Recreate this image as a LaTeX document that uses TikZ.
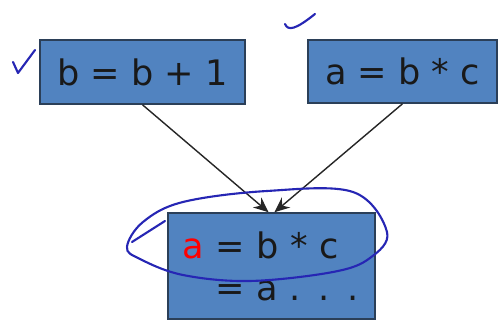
\documentclass[tikz,border=0pt]{standalone}
\usepackage{fontspec}
\usepackage{xcolor}
\usepackage{tikz}
\usetikzlibrary{positioning,arrows.meta}
\newfontfamily\boxfont{DejaVu Sans}
\definecolor{stmtblue}{HTML}{5183C0}
\definecolor{stmtedge}{HTML}{2B3F58}
\definecolor{penblue}{HTML}{2626B4}

\begin{document}
\begin{tikzpicture}[
  x=0.02cm, y=-0.02cm,
  font=\boxfont\fontsize{20}{24}\selectfont,
  stmt/.style={draw=stmtedge, line width=0.9pt, fill=stmtblue, text=black!90,
               inner sep=0pt, align=center},
  arr/.style={-{Stealth[length=3mm, width=2.6mm]}, line width=0.8pt, black!85},
  pen/.style={penblue, line width=1.2pt, line cap=round, line join=round}
]
\useasboundingbox[fill=white] (0,0) rectangle (498,320);
% ----- statements -----
\node[stmt, minimum width=4.10cm, minimum height=1.28cm] (inc)  at (142.5,72)  {b = b + 1};
\node[stmt, minimum width=3.78cm, minimum height=1.26cm] (prod) at (402.5,71.5) {a = b * c};
\node[stmt, minimum width=4.14cm, minimum height=2.12cm, text width=3.58cm,
      align=left, inner xsep=0.28cm] (use) at (271.5,266)
  {\textcolor{red}{a} = b * c\\\phantom{a }= a . . .};
% ----- flow edges -----
\draw[arr] (inc.south)  -- ([xshift=-0.06cm]use.north);
\draw[arr] (prod.south) -- ([xshift=0.06cm]use.north);
% ----- pen marks -----
\draw[pen] (13,62) -- (18,73) -- (35,50);
\draw[pen] (285,24) .. controls (288,31) and (295,30) .. (315,14);
\draw[pen] plot[smooth cycle, tension=0.6] coordinates
  {(127,247) (143,222) (183,202) (267,191) (353,192) (387,232)
   (370,258) (333,272) (250,281) (183,275) (140,259)};
\draw[pen] (132,242) -- (165,221);
\end{tikzpicture}
\end{document}
